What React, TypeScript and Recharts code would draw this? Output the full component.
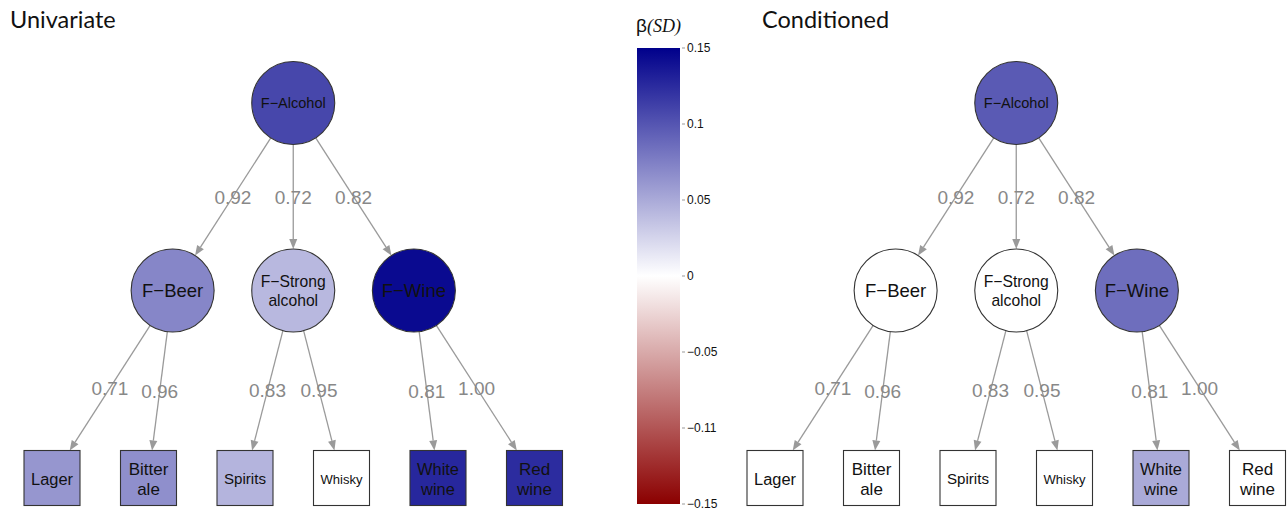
import React from "react";
import { ScatterChart, Scatter, XAxis, YAxis, BarChart, Bar } from "recharts";

// model structure
const general = "F−Alcohol";
const factors = ["F−Beer", "F−Strong\nalcohol", "F−Wine"];
const indicators = ["Lager", "Bitter\nale", "Spirits", "Whisky", "White\nwine", "Red\nwine"];
const indicatorFactor = [0, 0, 1, 1, 2, 2];

// standardised loadings
const generalLoadings = [0.92, 0.72, 0.82];
const indicatorLoadings = [0.71, 0.96, 0.83, 0.95, 0.81, 1.0];

// beta (SD) per node
const univariateGeneral = 0.108;
const univariateFactors = [0.071, 0.042, 0.144];
const univariateIndicators = [0.062, 0.066, 0.044, 0, 0.127, 0.124];
const conditionedGeneral = 0.097;
const conditionedFactors = [0, 0, 0.085];
const conditionedIndicators = [0, 0, 0, 0, 0.05, 0];

// colour bar
const betaTicks = [0.15, 0.1, 0.05, 0, -0.05, -0.1, -0.15];
const betaTickLabels = ["0.15", "0.1", "0.05", "0", "−0.05", "−0.11", "−0.15"];
const betaRange = [{ k: "β", range: [-0.15, 0.15] }];

const FONT = '"Liberation Sans", Arial, Helvetica, sans-serif';
const R = 41.5;
const BOX_W = 56;
const BOX_H = 55;
const EDGE = "#9a9a9a";

let ctx: CanvasRenderingContext2D | null = null;
function widthEm(s: string) {
  if (!ctx) ctx = document.createElement("canvas").getContext("2d");
  if (!ctx) return s.length * 0.55;
  ctx.font = `100px ${FONT}`;
  return ctx.measureText(s).width / 100;
}

function betaColor(b: number) {
  const t = Math.max(-1, Math.min(1, b / 0.15));
  const end = t >= 0 ? [0, 0, 139] : [139, 0, 0];
  const a = Math.abs(t);
  const c = end.map((e) => Math.round(255 + (e - 255) * a));
  return `rgb(${c.join(",")})`;
}

function NodeLabel({ cx, cy, label, avail, cap }: any) {
  const lines = label.split("\n");
  const fs = Math.min(cap, avail / Math.max(...lines.map(widthEm)));
  const lh = fs * 1.2;
  const y0 = cy - ((lines.length - 1) * lh) / 2;
  return (
    <text textAnchor="middle" fontFamily={FONT} fontSize={fs} fill="#111">
      {lines.map((l: string, i: number) => (
        <tspan key={i} x={cx} y={y0 + i * lh} dy="0.36em">
          {l}
        </tspan>
      ))}
    </text>
  );
}

const LatentShape = (props: any) => {
  const { cx, cy, payload } = props;
  return (
    <g>
      <circle cx={cx} cy={cy} r={R} fill={betaColor(payload.beta)} stroke="#333" strokeWidth={1.1} />
      <NodeLabel cx={cx} cy={cy} label={payload.label} avail={65} cap={18.5} />
    </g>
  );
};

const IndicatorShape = (props: any) => {
  const { cx, cy, payload } = props;
  return (
    <g>
      <rect
        x={cx - BOX_W / 2}
        y={cy - BOX_H / 2}
        width={BOX_W}
        height={BOX_H}
        fill={betaColor(payload.beta)}
        stroke="#333"
        strokeWidth={1.1}
      />
      <NodeLabel cx={cx} cy={cy + 1} label={payload.label} avail={42} cap={17} />
    </g>
  );
};

const NoPoint = () => <g />;

function edgeLine(loading: number, toBox: boolean) {
  return (props: any) => {
    const pts = props.points;
    if (!pts || pts.length < 2) return <g />;
    const [a, b] = pts;
    const dx = b.x - a.x;
    const dy = b.y - a.y;
    const len = Math.hypot(dx, dy);
    const ux = dx / len;
    const uy = dy / len;
    const sx = a.x + ux * R;
    const sy = a.y + uy * R;
    let endDist = R;
    if (toBox) {
      const tx = Math.abs(ux) > 1e-6 ? BOX_W / 2 / Math.abs(ux) : Infinity;
      const ty = Math.abs(uy) > 1e-6 ? BOX_H / 2 / Math.abs(uy) : Infinity;
      endDist = Math.min(tx, ty);
    }
    const ex = b.x - ux * endDist;
    const ey = b.y - uy * endDist;
    const AL = 10;
    const AW = 4;
    const bx = ex - ux * AL;
    const by = ey - uy * AL;
    const px = -uy;
    const py = ux;
    const mx = (sx + ex) / 2;
    const my = (sy + ey) / 2;
    return (
      <g>
        <line x1={sx} y1={sy} x2={bx} y2={by} stroke={EDGE} strokeWidth={1.3} />
        <polygon
          points={`${ex},${ey} ${bx + px * AW},${by + py * AW} ${bx - px * AW},${by - py * AW}`}
          fill={EDGE}
        />
        <text x={mx} y={my} dy="0.36em" textAnchor="middle" fontFamily={FONT} fontSize={19} fill="#888">
          {loading.toFixed(2)}
        </text>
      </g>
    );
  };
}

function Panel({ left, width, gBeta, fBeta, iBeta }: any) {
  const gNode = [{ x: 2.5, y: 0, label: general, beta: gBeta }];
  const fNodes = factors.map((f, j) => ({ x: 2.5 + (j - 1) * 1.25, y: 1, label: f, beta: fBeta[j] }));
  const iNodes = indicators.map((n, i) => ({ x: i, y: 2, label: n, beta: iBeta[i] }));
  return (
    <div style={{ position: "absolute", left, top: 0 }}>
      <ScatterChart width={width} height={510} margin={{ top: 103, right: width - 534.5, bottom: 32, left: 52 }}>
        <XAxis type="number" dataKey="x" domain={[0, 5]} hide />
        <YAxis type="number" dataKey="y" domain={[0, 2]} reversed hide />
        {fNodes.map((f, j) => (
          <Scatter
            key={`g${j}`}
            data={[gNode[0], f]}
            shape={NoPoint}
            line={edgeLine(generalLoadings[j], false)}
            isAnimationActive={false}
          />
        ))}
        {iNodes.map((n, i) => (
          <Scatter
            key={`f${i}`}
            data={[fNodes[indicatorFactor[i]], n]}
            shape={NoPoint}
            line={edgeLine(indicatorLoadings[i], true)}
            isAnimationActive={false}
          />
        ))}
        <Scatter data={gNode} shape={LatentShape} isAnimationActive={false} />
        <Scatter data={fNodes} shape={LatentShape} isAnimationActive={false} />
        <Scatter data={iNodes} shape={IndicatorShape} isAnimationActive={false} />
      </ScatterChart>
    </div>
  );
}

const BetaTick = (props: any) => {
  const { x, y, payload } = props;
  const i = betaTicks.findIndex((t) => Math.abs(t - payload.value) < 1e-9);
  return (
    <g>
      <line x1={x - 3} y1={y} x2={x} y2={y} stroke="#999" strokeWidth={1} />
      <text x={x + 2} y={y} dy="0.35em" textAnchor="start" fontFamily={FONT} fontSize={12} fill="#111">
        {betaTickLabels[i]}
      </text>
    </g>
  );
};

function ColorBar() {
  return (
    <div style={{ position: "absolute", left: 600, top: 0 }}>
      <BarChart width={120} height={510} data={betaRange} barCategoryGap={0} margin={{ top: 48, right: 0, bottom: 6, left: 37 }}>
        <defs>
          <linearGradient id="betaGrad" x1="0" y1="0" x2="0" y2="1">
            <stop offset="0%" stopColor="#00008b" />
            <stop offset="50%" stopColor="#ffffff" />
            <stop offset="100%" stopColor="#8b0000" />
          </linearGradient>
        </defs>
        <XAxis dataKey="k" hide />
        <YAxis
          orientation="right"
          type="number"
          width={40}
          domain={[-0.15, 0.15]}
          ticks={betaTicks}
          interval={0}
          axisLine={false}
          tickLine={false}
          tickSize={3}
          tick={<BetaTick />}
        />
        <Bar dataKey="range" fill="url(#betaGrad)" isAnimationActive={false} />
      </BarChart>
    </div>
  );
}

export default function App() {
  return (
    <div style={{ position: "absolute", left: 0, top: 0, width: 1288, height: 510, background: "#fff" }}>
      <svg width={1288} height={510} style={{ position: "absolute", left: 0, top: 0 }}>
        <text x={10} y={28} fontFamily="Lato, 'Open Sans', sans-serif" fontSize={23.5} fill="#111">
          Univariate
        </text>
        <text x={762} y={28} fontFamily="Lato, 'Open Sans', sans-serif" fontSize={23.5} fill="#111">
          Conditioned
        </text>
        <text x={636} y={32} fill="#111">
          <tspan fontFamily={FONT} fontSize={19}>β</tspan>
          <tspan fontFamily="'Liberation Serif', serif" fontStyle="italic" fontSize={18}>(SD)</tspan>
        </text>
      </svg>
      <Panel left={0} width={600} gBeta={univariateGeneral} fBeta={univariateFactors} iBeta={univariateIndicators} />
      <ColorBar />
      <Panel left={723} width={565} gBeta={conditionedGeneral} fBeta={conditionedFactors} iBeta={conditionedIndicators} />
    </div>
  );
}
